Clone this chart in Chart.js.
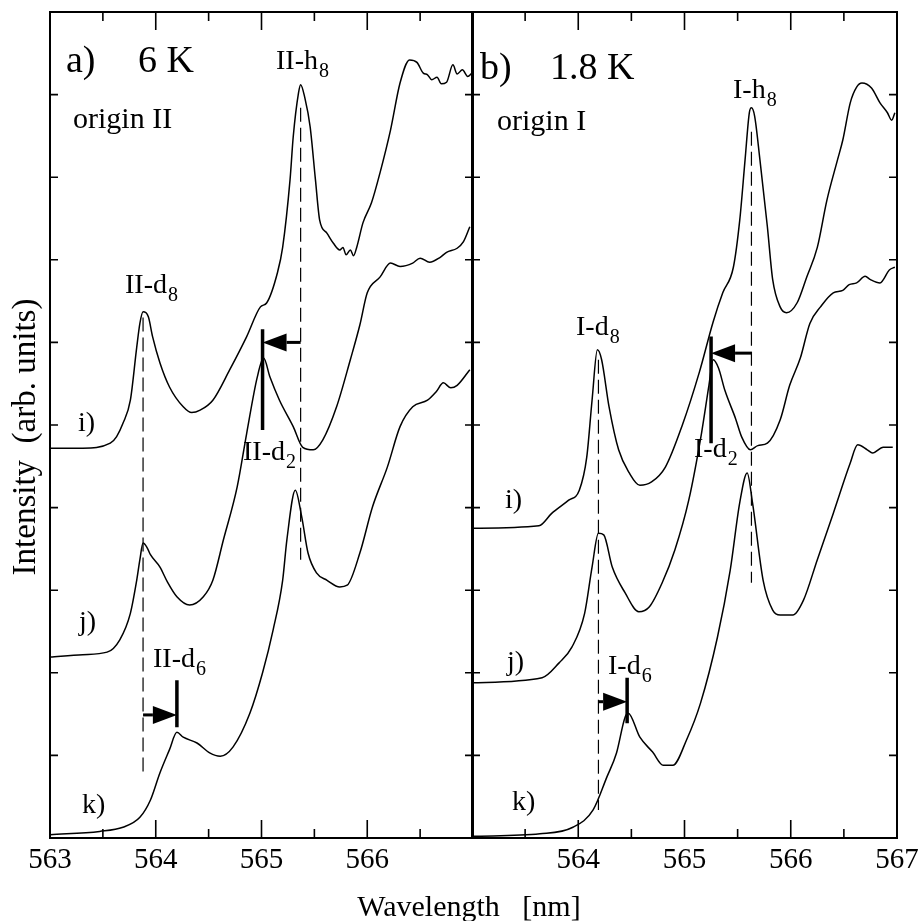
<!DOCTYPE html>
<html>
<head>
<meta charset="utf-8">
<script src="https://cdn.jsdelivr.net/npm/chart.js@4.4.0/dist/chart.umd.min.js"></script>
<style>
  html, body { margin: 0; padding: 0; background: #fff; }
  #wrap { position: relative; width: 919px; height: 921px; }
  #wrap canvas { position: absolute; left: 0; top: 0; }
</style>
</head>
<body>
<div id="wrap">
  <canvas id="panelA" width="919" height="921"></canvas>
  <canvas id="panelB" width="919" height="921"></canvas>
</div>
<script>
// ---- axes ----
const xMajorTicks = [563, 564, 565, 566, 567];
const xMinorTicks = [563.5, 564.5, 565.5, 566.5];
const yTicks = [1, 2, 3, 4, 5, 6, 7, 8, 9];
const tickLabelsA = ['563', '564', '565', '566'];
const tickLabelsB = ['564', '565', '566', '567'];

// ---- a) 6 K, origin II ----
const wlA_i = [563.00,563.31,563.57,563.63,563.69,563.76,563.82,563.85,563.88,563.93,563.97,564.04,564.13,564.26,564.34,564.42,564.54,564.70,564.86,564.99,565.05,565.15,565.20,565.27,565.30,565.35,565.37,565.41,565.46,565.51,565.55,565.62,565.68,565.74,565.77,565.80,565.84,565.87,565.90,565.96,566.04,566.12,566.22,566.31,566.40,566.47,566.53,566.57,566.61,566.66,566.70,566.75,566.81,566.85,566.90,566.95,566.99];
const intA_i = [4.72,4.72,4.78,4.86,5.02,5.30,5.94,6.23,6.37,6.31,6.07,5.75,5.46,5.22,5.15,5.18,5.30,5.67,6.07,6.43,6.48,6.84,7.15,7.97,8.49,9.02,9.12,8.96,8.61,7.97,7.48,7.32,7.20,7.12,7.15,7.06,7.12,7.05,7.15,7.45,7.69,8.05,8.57,9.14,9.42,9.39,9.26,9.24,9.18,9.21,9.13,9.15,9.36,9.25,9.30,9.22,9.26];
const wlA_j = [563.00,563.31,563.54,563.66,563.76,563.82,563.85,563.88,563.92,563.95,564.04,564.11,564.20,564.32,564.45,564.54,564.64,564.77,564.86,564.96,565.02,565.08,565.17,565.30,565.39,565.49,565.58,565.71,565.84,565.93,566.00,566.12,566.22,566.31,566.43,566.50,566.59,566.69,566.75,566.85,566.91,566.97];
const intA_j = [2.19,2.22,2.25,2.40,2.72,3.12,3.37,3.57,3.51,3.43,3.28,3.10,2.92,2.82,2.92,3.12,3.61,4.25,4.90,5.58,5.81,5.58,5.30,4.98,4.73,4.70,4.82,5.22,5.79,6.21,6.60,6.79,6.96,6.92,6.96,7.02,6.97,7.03,7.09,7.14,7.22,7.40];
const wlA_k = [563.00,563.47,563.69,563.85,563.95,564.04,564.13,564.20,564.26,564.39,564.51,564.61,564.73,564.89,565.01,565.11,565.20,565.24,565.32,565.38,565.44,565.52,565.62,565.74,565.81,565.93,566.05,566.19,566.31,566.43,566.57,566.65,566.72,566.79,566.85,566.97];
const intA_k = [0.04,0.08,0.13,0.25,0.46,0.79,1.07,1.28,1.22,1.15,1.03,0.99,1.10,1.51,2.00,2.52,3.12,3.61,4.21,3.89,3.45,3.21,3.12,3.04,3.06,3.45,4.01,4.49,4.98,5.22,5.30,5.40,5.51,5.45,5.48,5.67];

// ---- b) 1.8 K, origin I ----
const wlB_i = [563.00,563.63,563.75,563.91,564.01,564.08,564.13,564.18,564.22,564.29,564.38,564.48,564.58,564.69,564.82,564.98,565.14,565.27,565.36,565.46,565.52,565.57,565.61,565.63,565.66,565.71,565.78,565.83,565.90,565.96,566.06,566.15,566.25,566.34,566.44,566.49,566.56,566.62,566.67,566.76,566.84,566.91,566.95,566.98];
const intB_i = [3.75,3.78,3.93,4.09,4.21,4.61,5.30,5.91,5.79,5.22,4.70,4.42,4.27,4.31,4.49,5.00,5.64,6.25,6.60,6.91,7.48,8.21,8.78,8.84,8.74,8.21,7.40,6.76,6.43,6.36,6.48,6.79,7.15,7.72,8.21,8.45,8.90,9.09,9.14,9.08,8.90,8.78,8.69,8.78];
const wlB_j = [563.00,563.66,563.82,563.94,564.06,564.13,564.19,564.24,564.32,564.44,564.57,564.67,564.79,564.91,565.04,565.16,565.23,565.27,565.32,565.38,565.48,565.54,565.62,565.69,565.78,565.90,565.99,566.09,566.18,566.28,566.40,566.49,566.55,566.62,566.70,566.75,566.84,566.93,566.98];
const intB_j = [1.88,1.94,2.12,2.31,2.72,3.28,3.69,3.67,3.28,2.97,2.74,2.80,3.09,3.49,4.09,4.90,5.48,5.79,5.69,5.42,5.08,4.85,4.70,4.75,4.78,5.06,5.48,5.81,6.23,6.43,6.60,6.63,6.70,6.72,6.80,6.76,6.72,6.88,6.91];
const wlB_k = [563.00,563.64,563.95,564.14,564.27,564.36,564.44,564.47,564.58,564.70,564.80,564.89,565.02,565.15,565.31,565.43,565.52,565.59,565.64,565.74,565.83,565.90,566.02,566.12,566.25,566.40,566.56,566.63,566.72,566.77,566.87,566.96];
const intB_k = [0.02,0.05,0.13,0.34,0.74,1.03,1.46,1.51,1.22,1.04,0.88,0.88,1.19,1.63,2.43,3.24,4.06,4.42,4.06,3.12,2.76,2.70,2.70,2.88,3.37,3.93,4.54,4.76,4.70,4.66,4.73,4.73];

// ---- markers: dashed guides [wl, from, to], bars [wl, from, to], arrows [from wl, to wl, level] ----
const guidesA = [[563.88, 6.30, 0.80], [565.37, 8.84, 3.37]];
const barsA = [[565.01, 6.16, 4.94], [564.20, 1.91, 1.34]];
const arrowsA = [[565.37, 565.01, 6.00], [563.88, 564.20, 1.49]];
const guidesB = [[564.19, 5.79, 0.34], [565.63, 8.55, 3.09]];
const barsB = [[565.25, 6.07, 4.78], [564.46, 1.94, 1.39]];
const arrowsB = [[565.63, 565.25, 5.87], [564.19, 564.46, 1.65]];

const serif = '"Liberation Serif", "Times New Roman", serif';

const textsA = [
  { t: 'a)', x: 66, y: 72, size: 38 },
  { t: '6 K', x: 138, y: 72, size: 38 },
  { t: 'origin II', x: 73, y: 128, size: 30 },
  { t: 'II-h', sub: '8', x: 276, y: 69 },
  { t: 'II-d', sub: '8', x: 125, y: 293 },
  { t: 'II-d', sub: '2', x: 243, y: 460 },
  { t: 'II-d', sub: '6', x: 153, y: 667 },
  { t: 'i)', x: 78, y: 431 },
  { t: 'j)', x: 79, y: 630 },
  { t: 'k)', x: 82, y: 813 }
];
const textsB = [
  { t: 'b)', x: 480, y: 79, size: 38 },
  { t: '1.8 K', x: 550, y: 79, size: 38 },
  { t: 'origin I', x: 497, y: 130, size: 30 },
  { t: 'I-h', sub: '8', x: 733, y: 98 },
  { t: 'I-d', sub: '8', x: 576, y: 335 },
  { t: 'I-d', sub: '2', x: 694, y: 457 },
  { t: 'I-d', sub: '6', x: 608, y: 674 },
  { t: 'i)', x: 505, y: 508 },
  { t: 'j)', x: 507, y: 670 },
  { t: 'k)', x: 512, y: 810 }
];

function pts(xs, ys) {
  return xs.map((x, i) => ({ x: x, y: ys[i] }));
}

const panelDecor = {
  id: 'panelDecor',
  afterDatasetsDraw(chart, args, o) {
    const ctx = chart.ctx;
    const a = chart.chartArea;
    const x = chart.scales.x, y = chart.scales.y;
    ctx.save();
    ctx.strokeStyle = '#000';
    ctx.fillStyle = '#000';

    // frame
    ctx.lineWidth = 2;
    ctx.strokeRect(a.left, a.top, a.right - a.left, a.bottom - a.top);

    // inward ticks
    ctx.lineWidth = 1.6;
    ctx.beginPath();
    xMajorTicks.forEach(v => {
      const px = x.getPixelForValue(v);
      ctx.moveTo(px, a.bottom); ctx.lineTo(px, a.bottom - 18);
      ctx.moveTo(px, a.top); ctx.lineTo(px, a.top + 18);
    });
    xMinorTicks.forEach(v => {
      const px = x.getPixelForValue(v);
      ctx.moveTo(px, a.bottom); ctx.lineTo(px, a.bottom - 9);
      ctx.moveTo(px, a.top); ctx.lineTo(px, a.top + 9);
    });
    yTicks.forEach(v => {
      const py = y.getPixelForValue(v);
      ctx.moveTo(a.left, py); ctx.lineTo(a.left + 8, py);
      ctx.moveTo(a.right, py); ctx.lineTo(a.right - 8, py);
    });
    ctx.stroke();

    // tick labels
    ctx.font = '29px ' + serif;
    ctx.textAlign = 'center';
    ctx.textBaseline = 'alphabetic';
    o.tickLabels.forEach(s => {
      ctx.fillText(s, x.getPixelForValue(parseFloat(s)), a.bottom + 30);
    });

    // arrows
    o.arrows.forEach(([from, to, lvl]) => {
      const x0 = x.getPixelForValue(from), x1 = x.getPixelForValue(to);
      const py = y.getPixelForValue(lvl);
      const dir = Math.sign(x1 - x0);
      const head = 24, half = 9;
      ctx.lineWidth = 3;
      ctx.beginPath();
      ctx.moveTo(x0, py); ctx.lineTo(x1 - dir * head, py);
      ctx.stroke();
      ctx.beginPath();
      ctx.moveTo(x1, py);
      ctx.lineTo(x1 - dir * head, py - half);
      ctx.lineTo(x1 - dir * head, py + half);
      ctx.closePath();
      ctx.fill();
    });

    // labels
    ctx.textAlign = 'left';
    o.texts.forEach(t => {
      const size = t.size || 28;
      ctx.font = size + 'px ' + serif;
      ctx.fillText(t.t, t.x, t.y);
      if (t.sub) {
        const w = ctx.measureText(t.t).width;
        ctx.font = '20px ' + serif;
        ctx.fillText(t.sub, t.x + w + 1, t.y + 8);
      }
    });

    // axis titles
    if (o.titles) {
      ctx.font = '30px ' + serif;
      ctx.textAlign = 'center';
      ctx.fillText('Wavelength   [nm]', 469, 916);
      ctx.save();
      ctx.translate(35, 437);
      ctx.rotate(-Math.PI / 2);
      ctx.font = '33px ' + serif;
      ctx.fillText('Intensity  (arb. units)', 0, 0);
      ctx.restore();
    }
    ctx.restore();
  }
};

function makePanel(id, traces, guides, bars, arrows, texts, tickLabels, padLeft, padRight, titles) {
  const datasets = [];
  traces.forEach(([xs, ys]) => {
    datasets.push({
      data: pts(xs, ys),
      borderColor: '#000',
      borderWidth: 1.5,
      cubicInterpolationMode: 'monotone',
      pointRadius: 0
    });
  });
  guides.forEach(([w, y0, y1]) => {
    datasets.push({
      data: [{ x: w, y: y0 }, { x: w, y: y1 }],
      borderColor: '#000',
      borderWidth: 1.2,
      borderDash: [14, 6],
      tension: 0,
      pointRadius: 0
    });
  });
  bars.forEach(([w, y0, y1]) => {
    datasets.push({
      data: [{ x: w, y: y0 }, { x: w, y: y1 }],
      borderColor: '#000',
      borderWidth: 3.5,
      borderCapStyle: 'butt',
      tension: 0,
      pointRadius: 0
    });
  });
  return new Chart(document.getElementById(id), {
    type: 'line',
    data: { datasets: datasets },
    options: {
      responsive: false,
      animation: false,
      events: [],
      layout: { padding: { left: padLeft, right: padRight, top: 12, bottom: 83 } },
      scales: {
        x: { type: 'linear', min: 563, max: 567, display: false },
        y: { type: 'linear', min: 0, max: 10, display: false }
      },
      plugins: {
        legend: { display: false },
        tooltip: { enabled: false },
        panelDecor: { arrows: arrows, texts: texts, tickLabels: tickLabels, titles: titles }
      }
    },
    plugins: [panelDecor]
  });
}

makePanel('panelA', [[wlA_i, intA_i], [wlA_j, intA_j], [wlA_k, intA_k]],
  guidesA, barsA, arrowsA, textsA, tickLabelsA, 50, 919 - 473, true);
makePanel('panelB', [[wlB_i, intB_i], [wlB_j, intB_j], [wlB_k, intB_k]],
  guidesB, barsB, arrowsB, textsB, tickLabelsB, 472, 919 - 897, false);
</script>
</body>
</html>
